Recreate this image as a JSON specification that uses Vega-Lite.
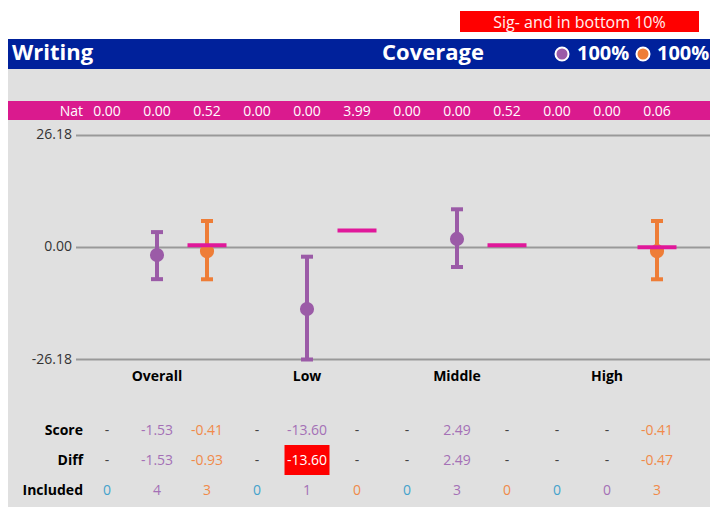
{
  "$schema": "https://vega.github.io/schema/vega-lite/v6.json",
  "background": "white",
  "padding": {"left": 8, "top": 0, "right": 0, "bottom": 0},
  "spacing": 0,
  "bounds": "flush",
  "resolve": {"scale": {"color": "independent", "x": "independent", "y": "independent"}},
  "config": {"view": {"stroke": null}, "font": "Open Sans", "text": {"font": "Open Sans"}},
  "datasets": {
    "nat": [
      {"col": 0, "series": "cyan", "nat": 0.00, "natText": "0.00"},
      {"col": 1, "series": "purple", "nat": 0.00, "natText": "0.00"},
      {"col": 2, "series": "orange", "nat": 0.52, "natText": "0.52"},
      {"col": 3, "series": "cyan", "nat": 0.00, "natText": "0.00"},
      {"col": 4, "series": "purple", "nat": 0.00, "natText": "0.00"},
      {"col": 5, "series": "orange", "nat": 3.99, "natText": "3.99"},
      {"col": 6, "series": "cyan", "nat": 0.00, "natText": "0.00"},
      {"col": 7, "series": "purple", "nat": 0.00, "natText": "0.00"},
      {"col": 8, "series": "orange", "nat": 0.52, "natText": "0.52"},
      {"col": 9, "series": "cyan", "nat": 0.00, "natText": "0.00"},
      {"col": 10, "series": "purple", "nat": 0.00, "natText": "0.00"},
      {"col": 11, "series": "orange", "nat": 0.06, "natText": "0.06"}
    ],
    "points": [
      {"group": "Overall", "col": 1, "series": "purple", "est": -1.75, "lo": -7.4, "hi": 3.6},
      {"group": "Overall", "col": 2, "series": "orange", "est": -0.85, "lo": -7.43, "hi": 6.19},
      {"group": "Low", "col": 4, "series": "purple", "est": -14.4, "lo": -26.18, "hi": -2.15},
      {"group": "Middle", "col": 7, "series": "purple", "est": 2.0, "lo": -4.56, "hi": 8.93},
      {"group": "High", "col": 11, "series": "orange", "est": -0.85, "lo": -7.43, "hi": 6.19}
    ],
    "grid": [
      {"v": 26.18, "label": "26.18"},
      {"v": 0, "label": "0.00"},
      {"v": -26.18, "label": "-26.18"}
    ],
    "groups": [
      {"group": "Overall", "col": 1},
      {"group": "Low", "col": 4},
      {"group": "Middle", "col": 7},
      {"group": "High", "col": 10}
    ],
    "table": [
      {"row": "Score", "col": 0, "t": "-", "kind": "dash"},
      {"row": "Score", "col": 1, "t": "-1.53", "kind": "purple"},
      {"row": "Score", "col": 2, "t": "-0.41", "kind": "orange"},
      {"row": "Score", "col": 3, "t": "-", "kind": "dash"},
      {"row": "Score", "col": 4, "t": "-13.60", "kind": "purple"},
      {"row": "Score", "col": 5, "t": "-", "kind": "dash"},
      {"row": "Score", "col": 6, "t": "-", "kind": "dash"},
      {"row": "Score", "col": 7, "t": "2.49", "kind": "purple"},
      {"row": "Score", "col": 8, "t": "-", "kind": "dash"},
      {"row": "Score", "col": 9, "t": "-", "kind": "dash"},
      {"row": "Score", "col": 10, "t": "-", "kind": "dash"},
      {"row": "Score", "col": 11, "t": "-0.41", "kind": "orange"},
      {"row": "Diff", "col": 0, "t": "-", "kind": "dash"},
      {"row": "Diff", "col": 1, "t": "-1.53", "kind": "purple"},
      {"row": "Diff", "col": 2, "t": "-0.93", "kind": "orange"},
      {"row": "Diff", "col": 3, "t": "-", "kind": "dash"},
      {"row": "Diff", "col": 4, "t": "-13.60", "kind": "sig", "sig": true},
      {"row": "Diff", "col": 5, "t": "-", "kind": "dash"},
      {"row": "Diff", "col": 6, "t": "-", "kind": "dash"},
      {"row": "Diff", "col": 7, "t": "2.49", "kind": "purple"},
      {"row": "Diff", "col": 8, "t": "-", "kind": "dash"},
      {"row": "Diff", "col": 9, "t": "-", "kind": "dash"},
      {"row": "Diff", "col": 10, "t": "-", "kind": "dash"},
      {"row": "Diff", "col": 11, "t": "-0.47", "kind": "orange"},
      {"row": "Included", "col": 0, "t": "0", "kind": "cyan"},
      {"row": "Included", "col": 1, "t": "4", "kind": "purple"},
      {"row": "Included", "col": 2, "t": "3", "kind": "orange"},
      {"row": "Included", "col": 3, "t": "0", "kind": "cyan"},
      {"row": "Included", "col": 4, "t": "1", "kind": "purple"},
      {"row": "Included", "col": 5, "t": "0", "kind": "orange"},
      {"row": "Included", "col": 6, "t": "0", "kind": "cyan"},
      {"row": "Included", "col": 7, "t": "3", "kind": "purple"},
      {"row": "Included", "col": 8, "t": "0", "kind": "orange"},
      {"row": "Included", "col": 9, "t": "0", "kind": "cyan"},
      {"row": "Included", "col": 10, "t": "0", "kind": "purple"},
      {"row": "Included", "col": 11, "t": "3", "kind": "orange"}
    ],
    "rowLabels": [
      {"row": "Score"},
      {"row": "Diff"},
      {"row": "Included"}
    ]
  },
  "vconcat": [
    {"width": 702, "height": 11, "data": {"values": []}, "mark": "text"},
    {
      "width": 702, "height": 21,
      "data": {"values": [{"label": "Sig- and in bottom 10%"}]},
      "layer": [
        {
          "mark": {"type": "rect", "color": "#FF0000"},
          "encoding": {
            "x": {"datum": 7.06, "type": "quantitative", "scale": {"domain": [-1.98, 12.06], "nice": false, "zero": false}, "axis": null},
            "x2": {"datum": 11.84}
          }
        },
        {
          "mark": {"type": "text", "color": "#FFF0F0", "fontSize": 16, "align": "center", "baseline": "middle", "dy": 1},
          "encoding": {
            "x": {"datum": 9.45, "type": "quantitative", "scale": {"domain": [-1.98, 12.06], "nice": false, "zero": false}, "axis": null},
            "text": {"field": "label"}
          }
        }
      ]
    },
    {"width": 702, "height": 7, "data": {"values": []}, "mark": "text"},
    {
      "width": 702, "height": 30,
      "view": {"fill": "#00219B", "stroke": null},
      "data": {"values": [{"title": "Writing", "cov": "Coverage", "p": "100%"}]},
      "layer": [
        {
          "mark": {"type": "text", "color": "white", "fontSize": 22, "fontWeight": "bold", "align": "left", "baseline": "alphabetic", "dy": 6},
          "encoding": {
            "x": {"datum": -1.9, "type": "quantitative", "scale": {"domain": [-1.98, 12.06], "nice": false, "zero": false}, "axis": null},
            "text": {"field": "title"}
          }
        },
        {
          "mark": {"type": "text", "color": "white", "fontSize": 22, "fontWeight": "bold", "align": "center", "baseline": "alphabetic", "dy": 6},
          "encoding": {
            "x": {"datum": 6.52, "type": "quantitative", "axis": null},
            "text": {"field": "cov"}
          }
        },
        {
          "mark": {"type": "point", "filled": true, "size": 170, "color": "#9B5BA7", "stroke": "white", "strokeWidth": 2, "opacity": 1},
          "encoding": {"x": {"datum": 9.1, "type": "quantitative", "axis": null}}
        },
        {
          "mark": {"type": "text", "color": "white", "fontSize": 20, "fontWeight": "bold", "align": "left", "baseline": "alphabetic", "dy": 6},
          "encoding": {
            "x": {"datum": 9.4, "type": "quantitative", "axis": null},
            "text": {"field": "p"}
          }
        },
        {
          "mark": {"type": "point", "filled": true, "size": 170, "color": "#EE7D37", "stroke": "white", "strokeWidth": 2, "opacity": 1},
          "encoding": {"x": {"datum": 10.72, "type": "quantitative", "axis": null}}
        },
        {
          "mark": {"type": "text", "color": "white", "fontSize": 20, "fontWeight": "bold", "align": "left", "baseline": "alphabetic", "dy": 6},
          "encoding": {
            "x": {"datum": 11.0, "type": "quantitative", "axis": null},
            "text": {"field": "p"}
          }
        }
      ]
    },
    {"width": 702, "height": 32, "view": {"fill": "#E0E0E0", "stroke": null}, "data": {"values": []}, "mark": "text"},
    {
      "width": 702, "height": 19,
      "view": {"fill": "#DA1A8E", "stroke": null},
      "data": {"name": "nat"},
      "layer": [
        {
          "data": {"values": [{"l": "Nat"}]},
          "mark": {"type": "text", "color": "white", "fontSize": 14, "align": "right", "baseline": "middle", "dy": 1},
          "encoding": {
            "x": {"datum": -0.48, "type": "quantitative", "scale": {"domain": [-1.98, 12.06], "nice": false, "zero": false}, "axis": null},
            "text": {"field": "l"}
          }
        },
        {
          "mark": {"type": "text", "color": "white", "fontSize": 14, "align": "center", "baseline": "middle", "dy": 1},
          "encoding": {
            "x": {"field": "col", "type": "quantitative", "axis": null},
            "text": {"field": "natText"}
          }
        }
      ]
    },
    {
      "width": 702, "height": 295,
      "view": {"fill": "#E0E0E0", "stroke": null},
      "layer": [
        {
          "data": {"name": "grid"},
          "mark": {"type": "rule", "color": "#999999", "strokeWidth": 2},
          "encoding": {
            "y": {"field": "v", "type": "quantitative", "scale": {"domain": [-39.153, 29.803], "nice": false, "zero": false}, "axis": null},
            "x": {"datum": -0.62, "type": "quantitative", "scale": {"domain": [-1.98, 12.06], "nice": false, "zero": false}, "axis": null},
            "x2": {"datum": 12.06}
          }
        },
        {
          "data": {"name": "grid"},
          "mark": {"type": "text", "color": "#333333", "fontSize": 14, "align": "right", "baseline": "middle"},
          "encoding": {
            "y": {"field": "v", "type": "quantitative"},
            "x": {"datum": -0.7, "type": "quantitative"},
            "text": {"field": "label"}
          }
        },
        {
          "data": {"name": "points"},
          "mark": {"type": "rule", "strokeWidth": 4},
          "encoding": {
            "x": {"field": "col", "type": "quantitative"},
            "y": {"field": "lo", "type": "quantitative"},
            "y2": {"field": "hi"},
            "color": {"field": "series", "type": "nominal", "scale": {"domain": ["cyan", "purple", "orange"], "range": ["#3DA0C8", "#9B5BA7", "#EE7D37"]}, "legend": null}
          }
        },
        {
          "data": {"name": "points"},
          "mark": {"type": "tick", "orient": "horizontal", "size": 12, "thickness": 4, "opacity": 1},
          "encoding": {
            "x": {"field": "col", "type": "quantitative"},
            "y": {"field": "lo", "type": "quantitative"},
            "color": {"field": "series", "type": "nominal", "legend": null}
          }
        },
        {
          "data": {"name": "points"},
          "mark": {"type": "tick", "orient": "horizontal", "size": 12, "thickness": 4, "opacity": 1},
          "encoding": {
            "x": {"field": "col", "type": "quantitative"},
            "y": {"field": "hi", "type": "quantitative"},
            "color": {"field": "series", "type": "nominal", "legend": null}
          }
        },
        {
          "data": {"name": "points"},
          "mark": {"type": "point", "filled": true, "size": 200, "opacity": 1},
          "encoding": {
            "x": {"field": "col", "type": "quantitative"},
            "y": {"field": "est", "type": "quantitative"},
            "color": {"field": "series", "type": "nominal", "legend": null}
          }
        },
        {
          "data": {"name": "nat"},
          "transform": [{"filter": "datum.series === 'orange'"}],
          "mark": {"type": "tick", "orient": "horizontal", "size": 39, "thickness": 4, "color": "#E0189A", "opacity": 1},
          "encoding": {
            "x": {"field": "col", "type": "quantitative"},
            "y": {"field": "nat", "type": "quantitative"}
          }
        },
        {
          "data": {"name": "groups"},
          "mark": {"type": "text", "color": "black", "fontSize": 14, "fontWeight": "bold", "align": "center", "baseline": "middle", "dy": 1},
          "encoding": {
            "x": {"field": "col", "type": "quantitative"},
            "y": {"datum": -30.0, "type": "quantitative"},
            "text": {"field": "group"}
          }
        }
      ]
    },
    {
      "width": 702, "height": 92,
      "view": {"fill": "#E0E0E0", "stroke": null},
      "resolve": {"scale": {"color": "independent"}},
      "layer": [
        {
          "data": {"name": "table"},
          "transform": [{"filter": "datum.sig === true"}],
          "mark": {"type": "rect", "color": "#FF0000", "width": 45},
          "encoding": {
            "x": {"field": "col", "type": "quantitative", "scale": {"domain": [-1.98, 12.06], "nice": false, "zero": false}, "axis": null},
            "y": {"field": "row", "type": "nominal", "scale": {"domain": ["Score", "Diff", "Included"], "paddingInner": 0, "paddingOuter": 0.0333, "align": 0}, "axis": null}
          }
        },
        {
          "data": {"name": "table"},
          "mark": {"type": "text", "fontSize": 14, "align": "center", "baseline": "middle", "dy": 1},
          "encoding": {
            "x": {"field": "col", "type": "quantitative"},
            "y": {"field": "row", "type": "nominal"},
            "text": {"field": "t"},
            "color": {"field": "kind", "type": "nominal", "scale": {"domain": ["cyan", "purple", "orange", "dash", "sig"], "range": ["#45A3CC", "#A470B6", "#F08A4A", "#444444", "#FFFFFF"]}, "legend": null}
          }
        },
        {
          "data": {"name": "rowLabels"},
          "mark": {"type": "text", "fontSize": 14, "fontWeight": "bold", "color": "black", "align": "right", "baseline": "middle", "dy": 1},
          "encoding": {
            "x": {"datum": -0.48, "type": "quantitative"},
            "y": {"field": "row", "type": "nominal"},
            "text": {"field": "row"}
          }
        }
      ]
    }
  ]
}
